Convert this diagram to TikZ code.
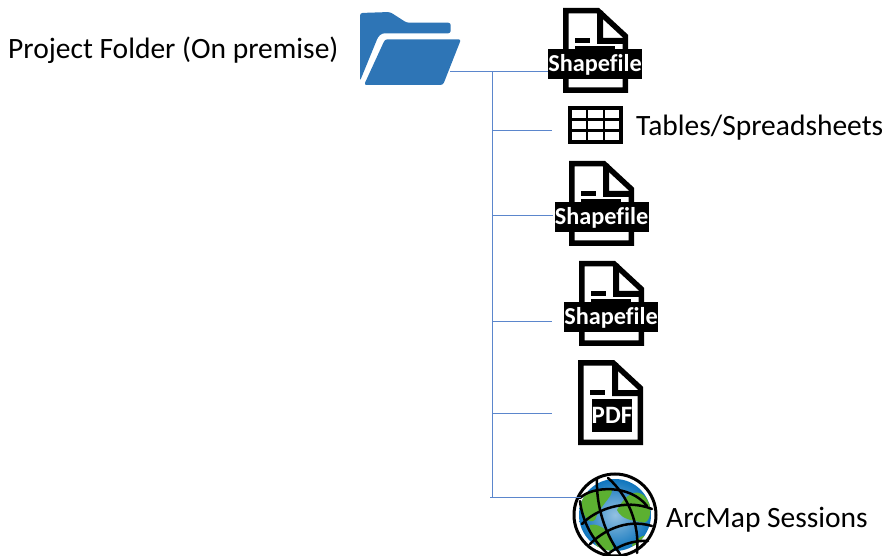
\documentclass[tikz,border=0pt]{standalone}
\usepackage{fontspec}
\setmainfont{Carlito}[Ligatures=NoCommon]
\definecolor{folderblue}{HTML}{2E75B6}
\definecolor{linkblue}{HTML}{5B86CC}
\definecolor{landgreen}{HTML}{5CB031}
\definecolor{seablue}{HTML}{0F75BD}
\tikzset{
  x=1pt,y=-1pt,
  link/.style={draw=linkblue,line width=1pt},
  linkthick/.style={draw=linkblue,line width=1.8pt},
  band/.style={fill=black,text=white,inner sep=0pt,minimum width=94pt,minimum height=30pt,text height=18pt,text depth=3.5pt,font=\fontsize{24.3}{24}\selectfont\bfseries},
  pdfband/.style={fill=black,text=white,inner sep=0pt,minimum width=40pt,minimum height=33pt,font=\fontsize{25}{25}\selectfont\bfseries},
  label/.style={inner sep=0pt,anchor=base west,font=\fontsize{29.5}{30}\selectfont},
  docline/.style={draw=black,line width=5.5pt,miter limit=10},
  gridline/.style={draw=black,line width=2.5pt,line cap=round},
  pics/docicon/.style={code={
    \draw[docline,fill=white] (2.75,2.75) -- (35,2.75) -- (62.25,28) -- (62.25,82.25) -- (2.75,82.25) -- cycle;
    \fill[black] (34,3) -- (40,3) -- (40,30) -- (62,30) -- (62,36) -- (34,36) -- cycle;
    \fill[black] (12,30) rectangle (27,35);
  }}
}
\begin{document}
\begin{tikzpicture}
\useasboundingbox (0,0) rectangle (887,556);
% folder
\fill[folderblue,rounded corners=2.5pt] (360,13) -- (390,12) -- (406.7,22.7) -- (450.7,22.7) -- (450.7,33.3) -- (382,33.3) -- (378,37) -- (360,81) -- cycle;
\fill[folderblue,rounded corners=2.5pt] (385,39.3) -- (461,39.3) -- (443,85) -- (364,85) -- cycle;
\coordinate (folder) at (450,71);
\node[label] (title) at (8,59) {Project Folder (On premise)};
% documents
\pic at (563,8) {docicon};
\fill[black] (575,46) rectangle (615,50);
\node[band] (shp1) at (595,64) {Shapefile};
\pic at (569,161) {docicon};
\fill[black] (581,199) rectangle (621,203);
\node[band] (shp2) at (601.5,217) {Shapefile};
\pic at (579,261) {docicon};
\fill[black] (591,299) rectangle (631,303);
\node[band] (shp3) at (611,317) {Shapefile};
\pic at (578,360) {docicon};
\node[pdfband] (pdf) at (612,415.5) {PDF};
% table
\draw[black,line width=3.6pt] (569.8,107.8) rectangle (621.2,142.2);
\draw[black,line width=2.6pt] (570,119.5) -- (621,119.5) (570,130.5) -- (621,130.5) (587,107.5) -- (587,142.5) (604,107.5) -- (604,142.5);
\node[label] (tables) at (636,136) {Tables/Spreadsheets};
% globe
\begin{scope}
\clip (615,515) circle (36);
\shade[inner color=seablue!45!white,outer color=seablue] (615,515) circle (36);
\fill[landgreen] (581,500) .. controls (590,488) and (605,488) .. (612,490) .. controls (612,498) and (600,505) .. (595,520) .. controls (588,525) and (582,515) .. (581,500) -- cycle;
\fill[landgreen] (617,510) .. controls (625,495) and (640,482) .. (650,505) .. controls (652,520) and (645,525) .. (640,522) .. controls (632,520) and (622,520) .. (617,510) -- cycle;
\fill[landgreen] (590,525) .. controls (600,522) and (618,535) .. (612,555) -- (600,552) .. controls (594,540) and (590,535) .. (590,525) -- cycle;
\fill[landgreen] (632,545) .. controls (640,535) and (650,530) .. (648,545) -- (635,552) -- cycle;
\end{scope}
\draw[black,line width=3pt] (615,515) circle (41);
\draw[gridline] (580,498) .. controls (592,486) and (630,484) .. (647,506);
\draw[gridline] (582,524) .. controls (595,510) and (625,498) .. (652,509);
\draw[gridline] (590,544) .. controls (602,532) and (625,518) .. (652,526);
\draw[gridline] (608,554) .. controls (618,546) and (632,540) .. (648,541);
\draw[gridline] (597,478) .. controls (596,500) and (602,530) .. (620,554);
\draw[gridline] (608,478) .. controls (628,495) and (640,525) .. (637,553);
\draw[gridline] (580,501) .. controls (582,520) and (592,540) .. (608,554);
\coordinate (globe) at (581,497.5);
\node[label] (arcmap) at (666,527.5) {ArcMap Sessions};
% connectors
\coordinate (trunktop) at (492,71.5);
\coordinate (trunkbottom) at (492,497.5);
\coordinate (tabletip) at (552,130.5);
\coordinate (shp2tip) at (553,215.5);
\coordinate (shp3tip) at (552,321.5);
\coordinate (pdftip) at (552,413.5);
\draw[link] (folder |- trunktop) -- (shp1.west |- trunktop);
\draw[link] (trunktop) -- (trunkbottom);
\draw[link] (trunktop |- tabletip) -- (tabletip);
\draw[link] (trunktop |- shp2tip) -- (shp2tip);
\draw[link] (trunktop |- shp3tip) -- (shp3tip);
\draw[link] (trunktop |- pdftip) -- (pdftip);
\draw[linkthick] (trunkbottom -| 490,0) -- (globe);
\end{tikzpicture}
\end{document}
